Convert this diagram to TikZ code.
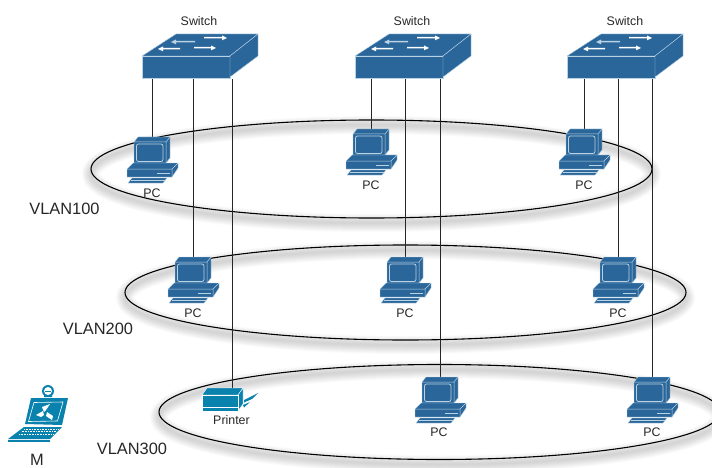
\documentclass[tikz,border=0pt]{standalone}
\usepackage{fontspec}
\setmainfont{Liberation Sans}
\definecolor{devblue}{HTML}{2A6699}
\definecolor{pale}{HTML}{B9D2E4}
\definecolor{prtblue}{HTML}{0A82AE}
\begin{document}
\begin{tikzpicture}[x=1pt,y=-1pt,
  vlan/.style={draw=black,line width=1.1pt},
  link/.style={draw=black!85,line width=1pt,shorten <=1pt},
  lbl/.style={font=\fontsize{12.4}{14}\selectfont,inner sep=0pt,text=black!85},
  big/.style={font=\fontsize{16.4}{19}\selectfont,inner sep=0pt,text=black!85},
  swfront/.style={rectangle,fill=devblue,draw=pale,line width=.5pt,minimum width=88pt,minimum height=22pt,inner sep=0pt},
  pcbox/.style={rectangle,minimum width=36pt,minimum height=46pt,inner sep=0pt},
  prtbox/.style={rectangle,minimum width=40pt,minimum height=22pt,inner sep=0pt},
  face/.style={fill=devblue,draw=pale,line width=.4pt,line join=round},
  pface/.style={fill=prtblue,draw=white,line width=.4pt,line join=round},
  switchtop/.pic={
    \path[face] (-44,-11) -- (-10,-33) -- (72,-33) -- (44,-11) -- cycle;
    \path[face] (44,-11) -- (72,-33) -- (72,-11) -- (44,10) -- cycle;
    \fill[white] (-28,-18) -- (-23,-20.5) -- (-23,-19) -- (-6,-19) -- (-6,-17.5) -- (-23,-17.5) -- (-23,-15.7) -- cycle;
    \fill[pale] (-15,-25) -- (-10,-27.5) -- (-10,-26) -- (9,-26) -- (9,-24.5) -- (-10,-24.5) -- (-10,-22.7) -- cycle;
    \fill[white] (30,-19) -- (25,-21.5) -- (25,-20) -- (8,-20) -- (8,-18.5) -- (25,-18.5) -- (25,-16.7) -- cycle;
    \fill[white] (41,-29) -- (36,-31.5) -- (36,-30) -- (18,-30) -- (18,-28.5) -- (36,-28.5) -- (36,-26.7) -- cycle;
  },
  pcglyph/.pic={
    \path[face] (-18,-18) -- (-14,-23) -- (18,-23) -- (18,-2) -- (14,3) -- (-18,3) -- cycle;
    \path[draw=pale,line width=.5pt] (-18,-18) -- (14,-18) -- (18,-23) (14,-18) -- (14,3);
    \path[fill=devblue,draw=pale,line width=.8pt,rounded corners=2pt] (-15.5,-16) rectangle (11,1.5);
    \path[face] (-25,9) -- (-19,3) -- (26,3) -- (26,8) -- (20,17) -- (-25,17) -- cycle;
    \path[draw=pale,line width=.5pt] (-25,9) -- (20,9) -- (26,3) (20,9) -- (20,17);
    \draw[pale,line width=1pt] (5,13) -- (18,13);
    \path[face] (-24,23) -- (-20,18) -- (15,18) -- (11,23) -- cycle;
    \draw[pale,line width=.3pt] (-21,20.5) -- (13,20.5);
  }]
\useasboundingbox (0,0) rectangle (712,468);
\begin{scope}
\clip (0,0) rectangle (712,468);
\foreach \cx/\cy/\ry in {371.5/169/49,405.5/292.5/47.5,439.5/412/47.5}{
  \foreach \w in {18,16,14,12,10,8,6,4,2}{
    \draw[black,opacity=.018,line width=\w pt] (\cx,\cy+5) ellipse [x radius=280.5,y radius=\ry];
  }
}
\path[vlan] (371.5,169) ellipse [x radius=280.5,y radius=49];
\path[vlan] (405.5,292.5) ellipse [x radius=280.5,y radius=47.5];
\path[vlan] (439.5,412) ellipse [x radius=280.5,y radius=47.5];
\end{scope}
% switches
\node[swfront] (sw1) at (186,67) {};
\node[swfront] (sw2) at (399,67) {};
\node[swfront] (sw3) at (611,67) {};
\pic at (186,67) {switchtop};
\pic at (399,67) {switchtop};
\pic at (611,67) {switchtop};
\node[lbl] (swl1) at (199,21) {Switch};
\node[lbl] (swl2) at (412,21) {Switch};
\node[lbl] (swl3) at (625,21) {Switch};
% PC anchor boxes
\foreach \n/\x/\y in {a1/152.5/160,a2/371.5/152,a3/584.5/152,b1/193.5/280,b2/405.5/280,b3/618.5/280,c2/440.5/400,c3/652.5/400}{
  \node[pcbox] (pc\n) at (\x,\y) {};
}
\node[prtbox] (prt) at (222,399) {};
% links
\draw[link] ([xshift=-33.5pt]sw1.south) -- (pca1.north);
\draw[link] ([xshift=7.5pt]sw1.south) -- (pcb1.north);
\draw[link] ([xshift=46.5pt]sw1.south) -- ([xshift=10.5pt]prt.north);
\draw[link] ([xshift=-27.5pt]sw2.south) -- (pca2.north);
\draw[link] ([xshift=6.5pt]sw2.south) -- (pcb2.north);
\draw[link] ([xshift=41.5pt]sw2.south) -- (pcc2.north);
\draw[link] ([xshift=-26.5pt]sw3.south) -- (pca3.north);
\draw[link] ([xshift=7.5pt]sw3.south) -- (pcb3.north);
\draw[link] ([xshift=41.5pt]sw3.south) -- (pcc3.north);
% PCs
\foreach \n in {a1,a2,a3,b1,b2,b3,c2,c3}{ \pic at ([xshift=-.5pt]pc\n.center) {pcglyph}; }
\node[lbl] (la1) at (152,193) {PC};
\node[lbl] (la2) at (371,185) {PC};
\node[lbl] (la3) at (584,185) {PC};
\node[lbl] (lb1) at (193,313) {PC};
\node[lbl] (lb2) at (405,313) {PC};
\node[lbl] (lb3) at (618,313) {PC};
\node[lbl] (lc2) at (439,432) {PC};
\node[lbl] (lc3) at (652,432) {PC};
% printer
\path[pface] (202,395) -- (207,388) -- (243,388) -- (238,395) -- cycle;
\path[pface] (238,395) -- (243,388) -- (243,404) -- (238,411) -- cycle;
\path[pface] (202,395) rectangle (238,411);
\draw[white,line width=.6pt] (202,407) -- (238,407);
\path[fill=prtblue] (244,400) -- (258,393) -- (252,399) -- (244,402.5) -- cycle;
\path[fill=prtblue] (243,405) -- (250,402) -- (244,407.5) -- cycle;
\node[lbl] (lp) at (231.5,420) {Printer};
% laptop
\fill[prtblue] (44,397) -- (44,391) arc (180:0:4) -- (52,397) -- cycle;
\fill[prtblue] (48,391) circle (6);
\fill[white] (48,391) circle (4);
\draw[prtblue,line width=1pt] (45,391) -- (51,391);
\path[fill=prtblue] (31,398) -- (68,398) -- (62,425) -- (25,424) -- cycle;
\path[fill=prtblue,draw=white,line width=.6pt] (34,402.5) -- (63,402) -- (57.5,421) -- (28.5,421.5) -- cycle;
\fill[white] (42,407) -- (50,404) -- (46,410) -- (44,412) -- cycle;
\fill[white] (36,415) -- (43,411) -- (44,415) -- (41,417) -- cycle;
\fill[white] (47,412) -- (53,416) -- (52,420) -- (46,416) -- cycle;
\path[fill=prtblue] (24,427) -- (62,427) -- (50,439) -- (8,439) -- cycle;
\foreach \t in {429,431.5,434}{\draw[white,line width=.6pt,dash pattern=on .8pt off .8pt] ({24-(\t-429)},\t) -- ({58-(\t-429)},\t);}
\path[fill=prtblue] (8,439.5) -- (50,439.5) -- (50,442) -- (8,442) -- cycle;
\node[big] (m) at (37,460) {M};
\node[big] (v1) at (64.5,209) {VLAN100};
\node[big] (v2) at (98,329) {VLAN200};
\node[big] (v3) at (132,449) {VLAN300};
\end{tikzpicture}
\end{document}
